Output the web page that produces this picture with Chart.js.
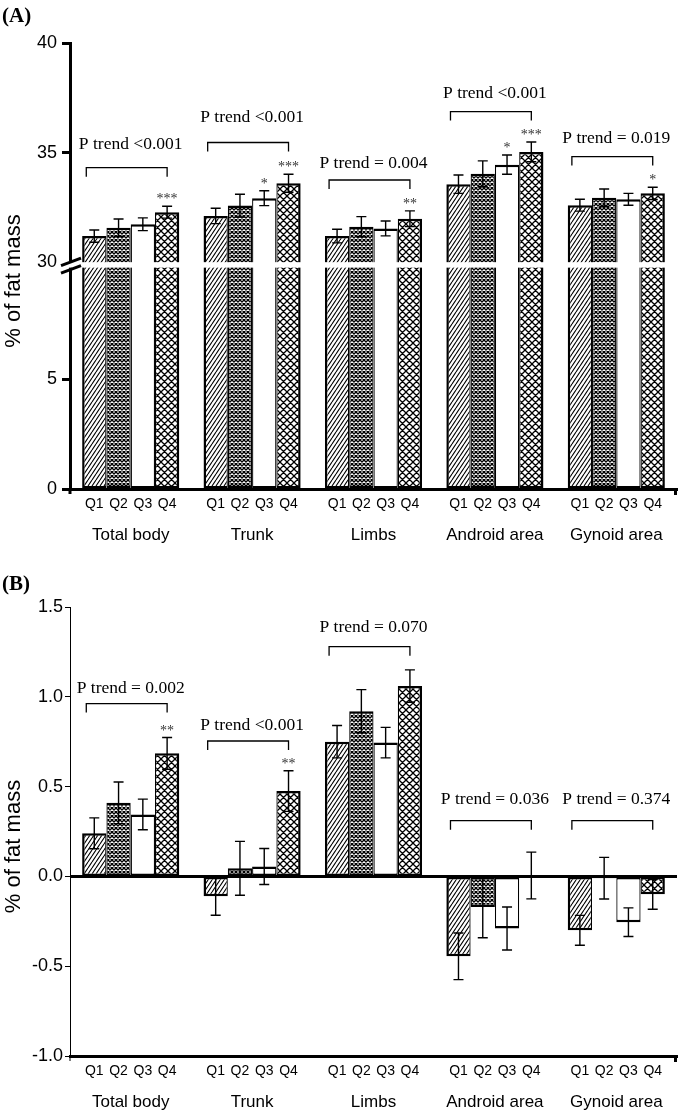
<!DOCTYPE html>
<html>
<head>
<meta charset="utf-8">
<script src="https://cdn.jsdelivr.net/npm/chart.js@4.4.0/dist/chart.umd.min.js"></script>
<style>
  html, body { margin: 0; padding: 0; background: #fff; }
  canvas { display: block; }
</style>
</head>
<body>
<canvas id="chartA" width="685" height="556"></canvas>
<canvas id="chartB" width="685" height="556"></canvas>
<script>
const groups = ['Total body', 'Trunk', 'Limbs', 'Android area', 'Gynoid area'];
const quartiles = ['Q1', 'Q2', 'Q3', 'Q4'];

// (A) % of fat mass by quartile, one array per quartile over the five regions
const aQ1 = [31.19, 32.11, 31.19, 33.56, 32.60];
const aQ2 = [31.57, 32.58, 31.62, 34.03, 32.94];
const aQ3 = [31.73, 32.92, 31.54, 34.45, 32.87];
const aQ4 = [32.28, 33.60, 31.98, 35.03, 33.14];
const aSeQ1 = [0.28, 0.35, 0.31, 0.42, 0.27];
const aSeQ2 = [0.40, 0.52, 0.46, 0.59, 0.40];
const aSeQ3 = [0.29, 0.34, 0.34, 0.44, 0.27];
const aSeQ4 = [0.27, 0.41, 0.36, 0.45, 0.28];
const aStarsQ3 = ['', '*', '', '*', ''];
const aStarsQ4 = ['***', '***', '**', '***', '*'];
const aTrend = ['P trend <0.001', 'P trend <0.001', 'P trend = 0.004', 'P trend <0.001', 'P trend = 0.019'];
const aBracket = [34.31, 35.46, 33.75, 36.87, 34.82];
const aTrendLevel = [35.43, 36.65, 34.59, 37.76, 35.73];
const aTicks = [0, 5, 30, 35, 40];

// (B) change in % of fat mass
const bQ1 = [0.24, -0.11, 0.75, -0.445, -0.30];
const bQ2 = [0.41, 0.045, 0.92, -0.17, -0.01];
const bQ3 = [0.345, 0.055, 0.745, -0.29, -0.255];
const bQ4 = [0.685, 0.475, 1.06, 0.005, -0.10];
const bSeQ1 = [0.086, 0.106, 0.09, 0.13, 0.083];
const bSeQ2 = [0.116, 0.15, 0.12, 0.172, 0.116];
const bSeQ3 = [0.085, 0.10, 0.085, 0.12, 0.08];
const bSeQ4 = [0.088, 0.113, 0.09, 0.13, 0.083];
const bStarsQ3 = ['', '', '', '', ''];
const bStarsQ4 = ['**', '**', '', '', ''];
const bTrend = ['P trend = 0.002', 'P trend <0.001', 'P trend = 0.070', 'P trend = 0.036', 'P trend = 0.374'];
const bBracket = [0.962, 0.754, 1.279, 0.31, 0.31];
const bTrendLevel = [1.054, 0.846, 1.393, 0.434, 0.434];
const bTicks = [-1, -0.5, 0, 0.5, 1, 1.5];

const SANS = '"Liberation Sans", Arial, sans-serif';
const SERIF = '"Liberation Serif", "Times New Roman", serif';
Chart.defaults.font.family = SANS;
Chart.defaults.color = '#000';

// broken axis for panel A: 0-10 below the break, 30-40 above it
const BREAK_LOW = 10.1, UPPER_BASE = 10.35;
const breakScale = v => (v >= 30 ? v - 30 + UPPER_BASE : v);
const plainScale = v => v;

function makePattern(kind) {
  const c = document.createElement('canvas');
  const g = c.getContext('2d');
  let w = 7, h = 7, lw = 1.3;
  if (kind === 'hatch') { w = 4; h = 6; lw = 1.1; }
  if (kind === 'dense') { w = 4; h = 4; lw = 1.35; }
  c.width = w; c.height = h;
  g.fillStyle = '#fff';
  g.fillRect(0, 0, w, h);
  g.strokeStyle = '#000';
  g.lineWidth = lw;
  g.beginPath();
  for (let k = -1; k <= 1; k++) {
    g.moveTo(k * w, h); g.lineTo(k * w + w, 0);
    if (kind !== 'hatch') { g.moveTo(k * w, 0); g.lineTo(k * w + w, h); }
  }
  g.stroke();
  return g.createPattern(c, 'repeat');
}
const fills = [makePattern('hatch'), makePattern('dense'), '#fff', makePattern('cross')];
const borders = [
  { top: 2.5, bottom: 2.5, left: 2.5, right: 1.25 },
  { top: 2.5, bottom: 2.5, left: 1.25, right: 1.25 },
  { top: 2.5, bottom: 2.5, left: 1.25, right: 1.25 },
  { top: 2.5, bottom: 2.5, left: 1.25, right: 2.5 }
];

function annotations(p) {
  return {
    id: 'annot' + p.panel,
    afterDraw(chart) {
      const { ctx, chartArea: a, scales: { y } } = chart;
      const py = v => y.getPixelForValue(p.map(v));
      const metas = quartiles.map((q, i) => chart.getDatasetMeta(i));
      ctx.save();

      if (p.broken) {
        const yUp = y.getPixelForValue(UPPER_BASE);
        const yLow = y.getPixelForValue(BREAK_LOW);
        ctx.fillStyle = '#fff';
        ctx.fillRect(a.left - 12, yUp, a.right - a.left + 12, yLow - yUp);
        ctx.strokeStyle = '#000';
        ctx.lineWidth = 3;
        ctx.beginPath();
        ctx.moveTo(a.left - 9, yUp + 3.5); ctx.lineTo(a.left + 11, yUp - 4);
        ctx.moveTo(a.left - 9, yUp + 11); ctx.lineTo(a.left + 11, yUp + 3.5);
        ctx.stroke();
      }
      if (p.zeroLine) {
        ctx.strokeStyle = '#000';
        ctx.lineWidth = 3;
        ctx.beginPath();
        ctx.moveTo(a.left, py(0)); ctx.lineTo(a.right, py(0));
        ctx.stroke();
      }
      // axis end ticks
      ctx.strokeStyle = '#000';
      ctx.lineWidth = 3;
      ctx.beginPath();
      ctx.moveTo(a.right - 1.5, a.bottom); ctx.lineTo(a.right - 1.5, a.bottom + 6);
      ctx.stroke();
      ctx.lineWidth = p.yBorder;
      ctx.beginPath();
      ctx.moveTo(a.left, a.bottom); ctx.lineTo(a.left, a.bottom + 5);
      ctx.stroke();

      // error bars and stars
      ctx.lineWidth = 1.4;
      ctx.font = '14px ' + SERIF;
      ctx.textAlign = 'center';
      ctx.textBaseline = 'alphabetic';
      p.means.forEach((series, i) => {
        series.forEach((m, j) => {
          const bx = metas[i].data[j].x;
          const se = p.ses[i][j];
          const t = py(m + se), b = py(m - se);
          ctx.strokeStyle = '#000';
          ctx.beginPath();
          ctx.moveTo(bx, t); ctx.lineTo(bx, b);
          ctx.moveTo(bx - 5, t); ctx.lineTo(bx + 5, t);
          ctx.moveTo(bx - 5, b); ctx.lineTo(bx + 5, b);
          ctx.stroke();
          const s = p.stars[i] ? p.stars[i][j] : '';
          if (s) {
            ctx.fillStyle = '#333';
            ctx.fillText(s, bx, t - 3);
          }
        });
      });

      // trend brackets
      ctx.lineWidth = 1.3;
      ctx.fillStyle = '#000';
      ctx.font = '17.5px ' + SERIF;
      groups.forEach((gname, j) => {
        const x1 = metas[0].data[j].x - 8, x2 = metas[3].data[j].x;
        const yb = py(p.bracket[j]);
        ctx.beginPath();
        ctx.moveTo(x1, yb + 9); ctx.lineTo(x1, yb); ctx.lineTo(x2, yb); ctx.lineTo(x2, yb + 9);
        ctx.stroke();
        const cx = (metas[1].data[j].x + metas[2].data[j].x) / 2;
        ctx.fillText(p.trend[j], cx, py(p.trendLevel[j]) + 6);
      });

      // quartile labels under each bar
      ctx.font = '14px ' + SANS;
      ctx.textBaseline = 'middle';
      metas.forEach((meta, i) => {
        meta.data.forEach(el => ctx.fillText(quartiles[i], el.x, a.bottom + 15));
      });

      // axis title
      ctx.save();
      ctx.translate(19.5, (a.top + a.bottom) / 2 + 15);
      ctx.rotate(-Math.PI / 2);
      ctx.font = '22px ' + SANS;
      ctx.textBaseline = 'alphabetic';
      ctx.fillText('% of fat mass', 0, 0);
      ctx.restore();

      // panel letter
      ctx.font = 'bold 21px ' + SERIF;
      ctx.textAlign = 'left';
      ctx.textBaseline = 'alphabetic';
      ctx.fillText(p.panel, 2, p.panelY);
      ctx.restore();
    }
  };
}

function buildChart(id, p) {
  const datasets = quartiles.map((q, i) => ({
    label: q,
    data: p.means[i].map(p.map),
    backgroundColor: fills[i],
    borderColor: '#000',
    borderWidth: borders[i],
    borderSkipped: false,
    categoryPercentage: 0.8,
    barPercentage: 1.0
  }));
  return new Chart(document.getElementById(id), {
    type: 'bar',
    data: { labels: groups, datasets },
    options: {
      responsive: false,
      animation: false,
      devicePixelRatio: 1,
      layout: { padding: { top: p.padTop, right: 8, left: 0, bottom: 0 } },
      plugins: { legend: { display: false }, tooltip: { enabled: false } },
      scales: {
        x: {
          afterFit: s => { s.height = p.xHeight; s.paddingLeft = 0; s.paddingRight = 0; },
          grid: { display: false, drawTicks: false },
          border: { color: '#000', width: 3 },
          ticks: { font: { size: 17 }, color: '#000', padding: 36 }
        },
        y: {
          min: p.map(p.ticks[0]),
          max: p.map(p.ticks[p.ticks.length - 1]),
          afterBuildTicks: s => { s.ticks = p.ticks.map(v => ({ value: p.map(v) })); },
          afterFit: s => { s.width = 70; },
          ticks: {
            font: { size: 18 }, color: '#000', padding: p.tickPad,
            callback: (v, i) => p.tickText(p.ticks[i])
          },
          grid: {
            drawOnChartArea: false,
            tickLength: p.tickLen,
            tickWidth: p.yBorder,
            tickColor: c => (p.broken && p.ticks[c.index] === 30 ? 'rgba(0,0,0,0)' : '#000')
          },
          border: { color: '#000', width: p.yBorder }
        }
      }
    },
    plugins: [annotations(p)]
  });
}

buildChart('chartA', {
  panel: '(A)', panelY: 22, padTop: 43, xHeight: 67,
  map: breakScale, broken: true, zeroLine: false,
  ticks: aTicks, tickText: v => String(v), tickLen: 8, tickPad: 5, yBorder: 3,
  means: [aQ1, aQ2, aQ3, aQ4], ses: [aSeQ1, aSeQ2, aSeQ3, aSeQ4],
  stars: [null, null, aStarsQ3, aStarsQ4],
  trend: aTrend, bracket: aBracket, trendLevel: aTrendLevel
});

buildChart('chartB', {
  panel: '(B)', panelY: 34, padTop: 51, xHeight: 56,
  map: plainScale, broken: false, zeroLine: true,
  ticks: bTicks, tickText: v => v.toFixed(1), tickLen: 5, tickPad: 2, yBorder: 1,
  means: [bQ1, bQ2, bQ3, bQ4], ses: [bSeQ1, bSeQ2, bSeQ3, bSeQ4],
  stars: [null, null, bStarsQ3, bStarsQ4],
  trend: bTrend, bracket: bBracket, trendLevel: bTrendLevel
});
</script>
</body>
</html>
